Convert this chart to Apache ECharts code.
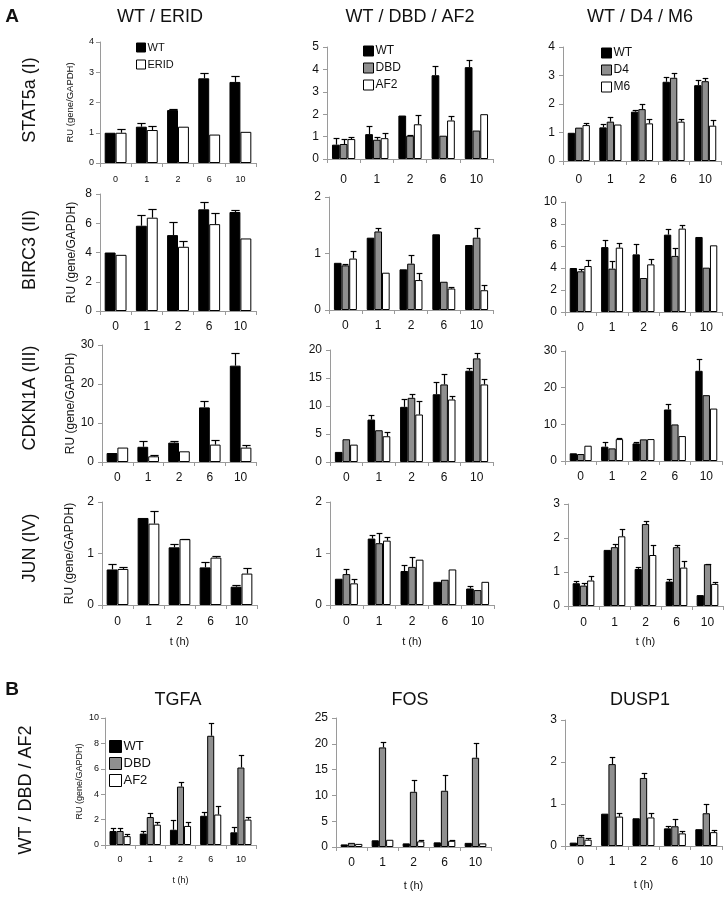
<!DOCTYPE html>
<html><head><meta charset="utf-8">
<script src="https://cdn.jsdelivr.net/npm/echarts@6/dist/echarts.min.js"></script>
<style>html,body{margin:0;padding:0;background:#fff}#c{width:724px;height:900px}</style>
</head><body><div id="c"></div>
<script>
// ---- data ----
const categories = ['0','1','2','6','10'];
const yTicksMax = [4,5,4, 8,2,10, 30,20,30, 2,2,3, 10,25,3];
const yTicksStep = [1,1,1, 2,1,2, 10,5,10, 1,1,1, 2,5,1];

const stat5a_erid = [[1.0,1.2,1.75,2.8,2.68],[1.0,1.09,1.2,0.94,1.03]];
const stat5a_erid_err = [[0,0.13,0.05,0.16,0.18],[0.14,0.13,0,0,0]];
const stat5a_dbd = [[0.64,1.11,1.94,3.74,4.1],[0.67,0.86,1.04,1.04,1.27],[0.89,0.93,1.55,1.72,2.0]];
const stat5a_dbd_err = [[0.29,0.37,0,0.42,0.34],[0.23,0.14,0.05,0,0],[0.11,0.22,0.42,0.22,0]];
const stat5a_d4 = [[0.99,1.18,1.73,2.78,2.66],[1.17,1.38,1.82,2.92,2.8],[1.26,1.28,1.32,1.38,1.24]];
const stat5a_d4_err = [[0,0.11,0.05,0.15,0.17],[0,0.15,0.18,0.17,0.12],[0.08,0,0.17,0.09,0.2]];

const birc3_erid = [[4.0,5.83,5.19,6.95,6.77],[3.84,6.38,4.39,5.94,4.96]];
const birc3_erid_err = [[0,0.73,0.91,0.52,0.13],[0,0.57,0.39,0.78,0]];
const birc3_dbd = [[0.835,1.28,0.72,1.34,1.15],[0.79,1.39,0.82,0.5,1.28],[0.91,0.66,0.53,0.38,0.35]];
const birc3_dbd_err = [[0,0,0,0,0],[0.03,0.07,0.16,0,0.17],[0.14,0,0.12,0.02,0.1]];
const birc3_d4 = [[4.0,5.9,5.24,7.03,6.82],[3.7,3.94,3.09,5.1,4.03],[4.18,5.85,4.33,7.58,6.06]];
const birc3_d4_err = [[0,0.68,0.91,0.55,0],[0.24,0.66,0,0.75,0],[0.52,0.42,0.52,0.36,0]];

const cdkn1a_erid = [[2.3,3.9,4.97,14.0,24.7],[3.7,1.46,2.74,4.46,3.69]];
const cdkn1a_erid_err = [[0,1.4,0.33,1.6,3.2],[0,0.44,0,1.28,0.6]];
const cdkn1a_dbd = [[1.8,7.58,9.85,12.1,16.3],[4.06,5.67,11.46,13.85,18.5],[3.1,4.6,8.48,11.16,13.85]];
const cdkn1a_dbd_err = [[0,0.9,1.35,2.2,0.4],[0,0,0.74,1.85,1.0],[0,0.77,2.4,0.66,0.9]];
const cdkn1a_d4 = [[2.1,3.9,4.8,14.05,24.6],[1.9,3.44,5.9,9.97,17.95],[4.17,5.98,5.98,6.8,14.3]];
const cdkn1a_d4_err = [[0,1.18,0.46,1.45,3.3],[0,0,0,0,0],[0,0.42,0,0,0]];

const jun_erid = [[0.69,1.69,1.12,0.73,0.355],[0.7,1.58,1.28,0.92,0.61]];
const jun_erid_err = [[0.1,0,0.07,0.1,0.035],[0.03,0.24,0.01,0.03,0.1]];
const jun_dbd = [[0.51,1.29,0.66,0.45,0.32],[0.6,1.2,0.74,0.49,0.29],[0.42,1.25,0.88,0.69,0.45]];
const jun_dbd_err = [[0,0.07,0.12,0,0.05],[0.09,0.2,0.19,0,0],[0.09,0.08,0,0,0]];
const jun_d4 = [[0.67,1.65,1.09,0.72,0.32],[0.6,1.73,2.41,1.73,1.23],[0.75,2.05,1.5,1.13,0.65]];
const jun_d4_err = [[0.08,0,0.07,0.08,0],[0.07,0.1,0.08,0.05,0.02],[0.12,0.22,0.28,0.18,0.07]];

const tgfa = [[1.1,0.9,1.2,2.3,1.0],[1.1,2.2,4.6,8.6,6.1],[0.7,1.6,1.5,2.4,2.0]];
const tgfa_err = [[0.2,0.2,0.8,0.3,0.4],[0.2,0.3,0.4,1.0,1.0],[0.2,0.2,0.3,0.7,0.2]];
const fos = [[0.5,1.3,0.7,0.9,0.8],[0.8,19.3,10.7,10.9,17.3],[0.6,1.4,1.1,1.2,0.7]];
const fos_err = [[0,0,0,0,0],[0,1.0,2.3,3.1,2.9],[0,0,0.3,0.2,0]];
const dusp1 = [[0.08,0.77,0.66,0.42,0.4],[0.22,1.95,1.62,0.47,0.78],[0.15,0.7,0.68,0.3,0.33]];
const dusp1_err = [[0,0,0,0.06,0],[0.05,0.17,0.13,0.18,0.22],[0.05,0.08,0.1,0.05,0.05]];

const namesErid = ['WT','ERID'];
const namesDbd = ['WT','DBD','AF2'];
const namesD4 = ['WT','D4','M6'];

// ---- layout ----
const FONT = '"Liberation Sans", Arial, sans-serif';
const GRAY = '#8f8f8f';
const AXC = '#9a9a9a';
const panels = [
  {v:stat5a_erid,e:stat5a_erid_err,n:namesErid,g:{left:100,top:42,width:156,height:121},fs:9,xfs:9,xm:12,yname:true,ng:25,nfs:9.5,legend:{left:131,top:37,fs:11,gap:6,iw:9}},
  {v:stat5a_dbd,e:stat5a_dbd_err,n:namesDbd,g:{left:327,top:47,width:166,height:112},fs:12,xfs:12,xm:15,legend:{left:358,top:40,fs:12,gap:5,iw:10}},
  {v:stat5a_d4,e:stat5a_d4_err,n:namesD4,g:{left:563,top:47,width:158,height:114},fs:12,xfs:12,xm:13,legend:{left:596,top:42,fs:12,gap:5,iw:10}},
  {v:birc3_erid,e:birc3_erid_err,n:namesErid,g:{left:100,top:194,width:156,height:117},fs:12,xfs:12,yname:true,ng:22,nfs:12},
  {v:birc3_dbd,e:birc3_dbd_err,n:namesDbd,g:{left:329,top:197,width:164,height:113},fs:12,xfs:12},
  {v:birc3_d4,e:birc3_d4_err,n:namesD4,g:{left:565,top:202,width:157,height:110},fs:12,xfs:12},
  {v:cdkn1a_erid,e:cdkn1a_erid_err,n:namesErid,g:{left:102,top:345,width:154,height:117},fs:12,xfs:12,yname:true,ng:24,nfs:12},
  {v:cdkn1a_dbd,e:cdkn1a_dbd_err,n:namesDbd,g:{left:330,top:350,width:163,height:112},fs:12,xfs:12},
  {v:cdkn1a_d4,e:cdkn1a_d4_err,n:namesD4,g:{left:565,top:351,width:157,height:110},fs:12,xfs:12},
  {v:jun_erid,e:jun_erid_err,n:namesErid,g:{left:102,top:502,width:155,height:103},fs:12,xfs:12,xm:11,yname:true,ng:26,nfs:12,xname:true,xnfs:11,xng:31},
  {v:jun_dbd,e:jun_dbd_err,n:namesDbd,g:{left:330,top:502,width:164,height:103},fs:12,xfs:12,xm:11,xname:true,xnfs:11,xng:31},
  {v:jun_d4,e:jun_d4_err,n:namesD4,g:{left:568,top:504,width:155,height:102},fs:12,xfs:12,xm:11,xname:true,xnfs:11,xng:30},
  {v:tgfa,e:tgfa_err,n:namesDbd,g:{left:105,top:718,width:151,height:127},fs:9,xfs:9,xm:10,yname:true,ng:21,nfs:9,xname:true,xnfs:9,xng:31,legend:{left:104,top:735,fs:13,gap:4,iw:12}},
  {v:fos,e:fos_err,n:namesDbd,g:{left:336,top:718,width:155,height:129},fs:12,xfs:12,xname:true,xnfs:11,xng:33},
  {v:dusp1,e:dusp1_err,n:namesDbd,g:{left:565,top:720,width:157,height:126},fs:12,xfs:12,xname:true,xnfs:11,xng:33}
];

const CAT_GAP = 0.3;
const grid = [], xAxis = [], yAxis = [], series = [], legend = [];
panels.forEach((p, k) => {
  grid.push(Object.assign({containLabel:false}, p.g));
  xAxis.push({type:'category', gridIndex:k, data:categories,
    axisLine:{lineStyle:{color:AXC,width:1}},
    axisTick:{show:true, length:4, lineStyle:{color:AXC}},
    axisLabel:{fontSize:p.xfs, color:'#111', fontFamily:FONT, margin:p.xm || 10},
    name: p.xname ? 't (h)' : '', nameLocation:'middle', nameGap: p.xng || 33,
    nameTextStyle:{fontSize:p.xnfs||11, color:'#111', fontFamily:FONT}});
  yAxis.push({type:'value', gridIndex:k, min:0, max:yTicksMax[k], interval:yTicksStep[k],
    splitLine:{show:false},
    axisLine:{show:true, lineStyle:{color:AXC,width:1}},
    axisTick:{show:true, length:4, lineStyle:{color:AXC}},
    axisLabel:{fontSize:p.fs, color:'#111', fontFamily:FONT, margin:p.fs>10?8:6},
    name: p.yname ? 'RU (gene/GAPDH)' : '', nameLocation:'middle', nameRotate:90, nameGap:p.ng||24,
    nameTextStyle:{fontSize:p.nfs||12, color:'#111', fontFamily:FONT}});
  const nS = p.v.length;
  p.v.forEach((vals, i) => {
    const name = p.n[i];
    const fill = i === 0 ? '#000' : (name === 'DBD' || name === 'D4') ? GRAY : '#fff';
    series.push({type:'bar', name:name, xAxisIndex:k, yAxisIndex:k, data:vals,
      barGap:'0%', barCategoryGap:(CAT_GAP*100)+'%', animation:false,
      itemStyle:{color:fill, borderColor:'#000', borderWidth:1}});
  });
  p.v.forEach((vals, i) => {
    const errs = p.e[i];
    series.push({type:'custom', xAxisIndex:k, yAxisIndex:k, animation:false, silent:true, z:5,
      data: vals.map((v, j) => [j, v, errs[j]]),
      renderItem: (params, api) => {
        const e = api.value(2);
        if (!e) return null;
        const x = api.value(0), v = api.value(1);
        const base = api.coord([x, v]);
        const top = api.coord([x, v + e]);
        const band = api.size([1, 0])[0];
        const totW = band * (1 - CAT_GAP);
        const bw = totW / nS;
        const cx = Math.round(base[0] - totW / 2 + (i + 0.5) * bw) + 0.5;
        const hw = bw * 0.38;
        const ty = Math.round(top[1]) + 0.5;
        return {type:'group', children:[
          {type:'line', shape:{x1:cx, y1:base[1], x2:cx, y2:ty}, style:{stroke:'#000', lineWidth:1.2}},
          {type:'line', shape:{x1:cx - hw, y1:ty, x2:cx + hw, y2:ty}, style:{stroke:'#000', lineWidth:1.2}}
        ]};
      }});
  });
  if (p.legend) {
    legend.push({orient:'vertical', left:p.legend.left, top:p.legend.top, itemGap:p.legend.gap,
      itemWidth:p.legend.iw, itemHeight:p.legend.iw, icon:'rect', selectedMode:false,
      textStyle:{fontSize:p.legend.fs, color:'#111', fontFamily:FONT, padding:[0,0,0,-3]},
      data:p.n.map(nm => ({name:nm, itemStyle:{color: nm==='WT'?'#000':(nm==='DBD'||nm==='D4')?GRAY:'#fff', borderColor:'#000', borderWidth:1}}))});
  }
});

const txt = (s, x, y, size, opts) => Object.assign({type:'text', x:x, y:y,
  style:{text:s, fontSize:size, fontFamily:FONT, fill:'#111', textAlign:'center', textVerticalAlign:'middle', fontWeight:(opts&&opts.bold)?'bold':'normal'}},
  (opts&&opts.rot)?{rotation:Math.PI/2}:{});

const graphic = [
  txt('A', 12, 17, 19, {bold:true}),
  txt('B', 12, 690, 19, {bold:true}),
  txt('WT / ERID', 160, 17, 18),
  txt('WT / DBD / AF2', 410, 17, 18),
  txt('WT / D4 / M6', 640, 17, 18),
  txt('STAT5a (I)', 30, 100, 18, {rot:true}),
  txt('BIRC3 (II)', 30, 250, 18, {rot:true}),
  txt('CDKN1A (III)', 30, 398, 18, {rot:true}),
  txt('JUN (IV)', 30, 548, 18, {rot:true}),
  txt('TGFA', 178, 700, 18),
  txt('FOS', 410, 700, 18),
  txt('DUSP1', 640, 700, 18),
  txt('WT / DBD / AF2', 26, 790, 18, {rot:true})
];

const chart = echarts.init(document.getElementById('c'), null, {renderer:'canvas'});
chart.setOption({animation:false, backgroundColor:'#fff', grid, xAxis, yAxis, series, legend, graphic});
</script></body></html>
